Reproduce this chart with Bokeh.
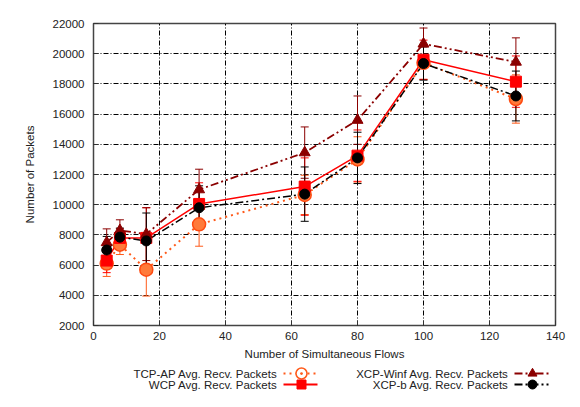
from bokeh.plotting import figure
from bokeh.models import (ColumnDataSource, Whisker, TeeHead, FixedTicker,
                          Range1d, Label)
from bokeh.layouts import column
from bokeh.embed import file_html
from bokeh.resources import INLINE

# number of simultaneous flows
flows = [4, 8, 16, 32, 64, 80, 100, 128]

# average received packets and error half-widths
tcp_ap = [6100, 7350, 5700, 8700, 10650, 13000, 19400, 17000]
tcp_ap_err = [850, 650, 1750, 1450, 1300, 1500, 1100, 1600]
wcp = [6300, 7800, 7800, 10050, 11200, 13250, 19600, 18150]
wcp_err = [800, 600, 2000, 1400, 1900, 1700, 1300, 1700]
xcp_winf = [7500, 8300, 8050, 11000, 13450, 15600, 20650, 19450]
xcp_winf_err = [900, 700, 1750, 1350, 1700, 1600, 1050, 1600]
xcp_b = [7000, 7850, 7600, 9800, 10700, 13100, 19350, 17200]
xcp_b_err = [900, 600, 1850, 1450, 1800, 1700, 1100, 1650]

x_ticks = [0, 20, 40, 60, 80, 100, 120, 140]
y_ticks = [2000, 4000, 6000, 8000, 10000, 12000, 14000, 16000, 18000, 20000, 22000]

FONT = "Liberation Sans"
TXT = "#222222"

p = figure(width=580, height=364, x_range=Range1d(0, 140), y_range=Range1d(2000, 22000),
           output_backend="svg", toolbar_location=None,
           x_axis_label="Number of Simultaneous Flows", y_axis_label="Number of Packets",
           min_border_left=93, min_border_right=25, min_border_top=23, min_border_bottom=39)

xt = FixedTicker(ticks=x_ticks)
yt = FixedTicker(ticks=y_ticks)
p.xaxis.ticker = xt
p.yaxis.ticker = yt
p.xgrid.ticker = xt
p.ygrid.ticker = yt
for ax in (p.xaxis, p.yaxis):
    ax.major_label_text_font = FONT
    ax.major_label_text_font_size = "11.5px"
    ax.major_label_text_color = TXT
    ax.axis_label_text_font = FONT
    ax.axis_label_text_font_size = "11.5px"
    ax.axis_label_text_font_style = "normal"
    ax.axis_label_text_color = TXT
    ax.major_tick_in = 5
    ax.major_tick_out = 0
    ax.minor_tick_line_color = None
    ax.axis_line_color = None
    ax.major_tick_line_color = "#333333"
p.xaxis.major_label_standoff = 6
p.xaxis.axis_label_standoff = 5
p.yaxis.major_label_standoff = 9
p.yaxis.axis_label_standoff = 14

p.grid.grid_line_color = "black"
p.grid.grid_line_alpha = 1.0
p.grid.grid_line_dash = "5 2 1 2"
p.grid.grid_line_width = 1
p.outline_line_color = "#444444"
p.outline_line_width = 1.5
p.background_fill_color = "white"
p.border_fill_color = "white"

series = [
    (tcp_ap, tcp_ap_err, "#ff5a1a", "2 4", 2),
    (wcp, wcp_err, "#ff0000", "solid", 1.5),
    (xcp_winf, xcp_winf_err, "#8b0000", "8 3 2 3 2 3", 1.8),
    (xcp_b, xcp_b_err, "#000000", "8 3 2 3", 1.5),
]

for vals, errs, col, dash, lw in series:
    src = ColumnDataSource(dict(x=flows, y=vals,
                                lo=[v - e for v, e in zip(vals, errs)],
                                hi=[v + e for v, e in zip(vals, errs)]))
    p.line("x", "y", source=src, line_color=col, line_dash=dash, line_width=lw)
    p.add_layout(Whisker(base="x", lower="lo", upper="hi", source=src,
                         line_color=col, line_width=1,
                         upper_head=TeeHead(size=8, line_color=col, line_width=1),
                         lower_head=TeeHead(size=8, line_color=col, line_width=1)))

p.scatter(flows, tcp_ap, marker="circle", size=13, fill_color="#ff7a3a",
          line_color="#ff4a10", line_width=1.5)
p.scatter(flows, wcp, marker="square", size=11, fill_color="#ff0000", line_color="#ff0000")
p.scatter(flows, xcp_winf, marker="triangle", size=11, fill_color="#8b0000", line_color="#8b0000")
p.scatter(flows, xcp_b, marker="circle", size=10, fill_color="black", line_color="black")

# legend drawn in a strip below the plot (frame aligned with the plot frame)
lg = figure(width=580, height=43, x_range=Range1d(93, 555), y_range=Range1d(43, 0),
            output_backend="svg", toolbar_location=None,
            x_axis_location=None, y_axis_location=None,
            min_border_left=93, min_border_right=25, min_border_top=0, min_border_bottom=0)
lg.grid.visible = False
lg.outline_line_color = None

entries = [
    ("TCP-AP Avg. Recv. Packets", 277, 9, "#ff5a1a", "2 4", "circle_dot"),
    ("WCP Avg. Recv. Packets", 277, 20, "#ff0000", "solid", "square"),
    ("XCP-Winf Avg. Recv. Packets", 508, 9, "#8b0000", "8 3 2 3 2 3", "triangle"),
    ("XCP-b Avg. Recv. Packets", 508, 20, "#000000", "8 3 2 3", "circle"),
]
for name, tx, ty, col, dash, mk in entries:
    lg.add_layout(Label(x=tx, y=ty, text=name, text_align="right", text_baseline="middle",
                        text_font=FONT, text_font_size="11.5px", text_color=TXT))
    lg.line([tx + 6, tx + 40], [ty, ty], line_color=col, line_dash=dash, line_width=1.8)
    if mk == "circle_dot":
        lg.scatter([tx + 24], [ty], marker="circle_dot", size=11, fill_color="white",
                   line_color=col, line_width=1.5)
    else:
        lg.scatter([tx + 24], [ty], marker=mk, size=9, fill_color=col, line_color=col)

layout = column(p, lg)
open("out.html", "w").write(file_html(layout, INLINE))
